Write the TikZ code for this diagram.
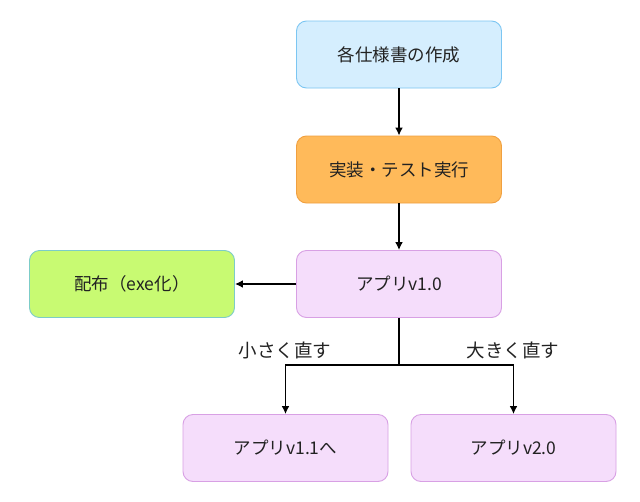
\documentclass[tikz,border=0pt]{standalone}
\usepackage{fontspec}
\setmainfont{Noto Sans CJK JP}
\usetikzlibrary{arrows.meta}
\definecolor{bluef}{HTML}{D5EEFE}
\definecolor{blued}{HTML}{7CC6F2}
\definecolor{orangef}{HTML}{FFBA5A}
\definecolor{oranged}{HTML}{F0A040}
\definecolor{greenf}{HTML}{C8FA72}
\definecolor{greend}{HTML}{7CCCC8}
\definecolor{purplef}{HTML}{F5DDFB}
\definecolor{purpled}{HTML}{D8A0E4}
\definecolor{txt}{HTML}{222222}
\tikzset{
  box/.style={rounded corners=10pt, minimum width=205pt, minimum height=67pt,
    line width=0.9pt, font=\fontsize{17.5}{20}\selectfont, text=txt, inner sep=0pt},
  conn/.style={line width=1.9pt, -{Latex[length=8pt,width=8pt]}},
  lbl/.style={font=\fontsize{18.5}{21}\selectfont, text=txt, inner sep=0pt}
}
\begin{document}
\begin{tikzpicture}[x=1pt,y=-1pt]
\useasboundingbox[fill=white] (0,0) rectangle (640,501);
\node[box, fill=bluef, draw=blued] (spec) at (399,54.5) {各仕様書の作成};
\node[box, fill=orangef, draw=oranged] (impl) at (399,169.5) {実装・テスト実行};
\node[box, fill=purplef, draw=purpled] (v10) at (399,284) {アプリv1.0};
\node[box, fill=greenf, draw=greend] (dist) at (132,284) {配布（exe化）};
\node[box, fill=purplef, draw=purpled] (v11) at (285.5,448) {アプリv1.1へ};
\node[box, fill=purplef, draw=purpled] (v20) at (513.5,448) {アプリv2.0};
\node[lbl] (small) at (285,350) {小さく直す};
\node[lbl] (large) at (513,350) {大きく直す};
\coordinate (split) at (399,365);
\draw[conn] (spec) -- (impl);
\draw[conn] (impl) -- (v10);
\draw[conn] (v10) -- (dist);
\draw[line width=1.9pt] (v10.south) -- (split);
\draw[conn] (split) -| (v11.north);
\draw[conn] (split) -| (v20.north);
\end{tikzpicture}
\end{document}
